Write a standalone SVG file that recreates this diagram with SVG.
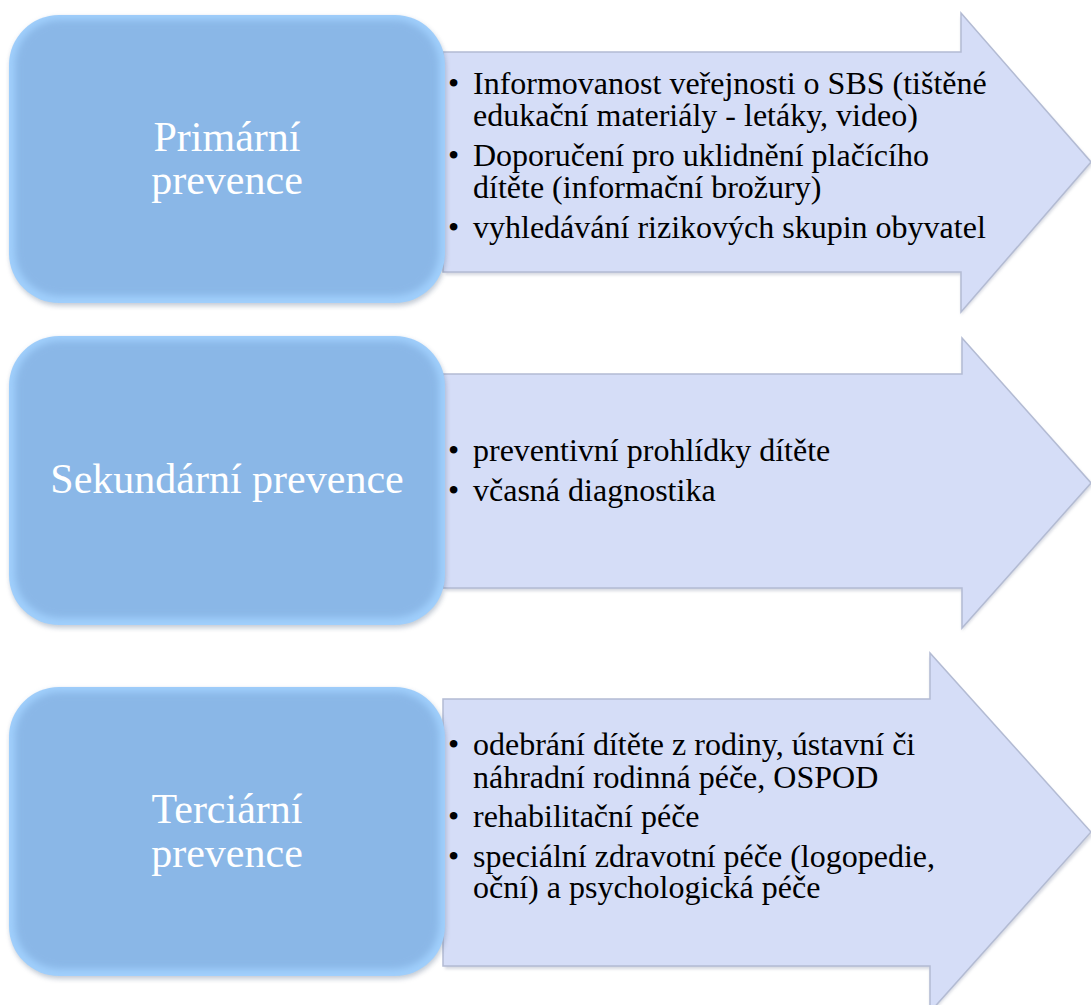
<svg xmlns="http://www.w3.org/2000/svg" width="1091" height="1005" viewBox="0 0 1091 1005">
<defs>
<style>
.arrow{fill:#D5DDF7;stroke:#B3BBD3;stroke-width:1.5;}
.boxEdge{fill:#A0CFFC;}
.boxCore{fill:#8AB7E7;}
.boxShadow{fill:#5A6E8A;opacity:0.35;}
.title{font-size:42px;fill:#FFFFFF;text-anchor:middle;}
.item{font-size:32px;fill:#000000;}
</style>
<filter id="soft" x="-5%" y="-5%" width="110%" height="110%">
<feGaussianBlur stdDeviation="3.5"/>
</filter>
<filter id="shadow" x="-5%" y="-5%" width="110%" height="115%">
<feGaussianBlur stdDeviation="2.5"/>
</filter>
<filter id="ashadow" x="-5%" y="-5%" width="110%" height="110%">
<feGaussianBlur stdDeviation="1.5"/>
</filter>
</defs>
<rect width="1091" height="1005" fill="#FFFFFF"/>
<g id="connectors"></g>

<g id="arrow-primarni">
<polygon points="445,55 961,55 961,16 1093,164 961,315 961,275 445,275" fill="#8890A8" opacity="0.35" filter="url(#ashadow)"/>
<polygon class="arrow" points="443,52 961,52 961,13 1091,162 961,312 961,272 443,272"/>
<text class="item" font-family="'Liberation Serif', 'Times New Roman', serif"><tspan x="448" y="94">•</tspan><tspan x="473" y="94">Informovanost veřejnosti o SBS (tištěné</tspan><tspan x="473" y="126">edukační materiály - letáky, video)</tspan><tspan x="448" y="166">•</tspan><tspan x="473" y="166">Doporučení pro uklidnění plačícího</tspan><tspan x="473" y="198">dítěte (informační brožury)</tspan><tspan x="448" y="238">•</tspan><tspan x="473" y="238">vyhledávání rizikových skupin obyvatel</tspan></text>
</g>

<g id="arrow-sekundarni">
<polygon points="445,377 962,377 962,341 1093,485 962,631 962,591 445,591" fill="#8890A8" opacity="0.35" filter="url(#ashadow)"/>
<polygon class="arrow" points="443,374 962,374 962,338 1091,483 962,628 962,588 443,588"/>
<text class="item" font-family="'Liberation Serif', 'Times New Roman', serif"><tspan x="448" y="461">•</tspan><tspan x="473" y="461">preventivní prohlídky dítěte</tspan><tspan x="448" y="501">•</tspan><tspan x="473" y="501">včasná diagnostika</tspan></text>
</g>

<g id="arrow-terciarni">
<polygon points="445,702 930,702 930,656 1093,835 930,1015 930,969 445,969" fill="#8890A8" opacity="0.35" filter="url(#ashadow)"/>
<polygon class="arrow" points="443,699 930,699 930,653 1091,832 930,1012 930,966 443,966"/>
<text class="item" font-family="'Liberation Serif', 'Times New Roman', serif"><tspan x="448" y="755">•</tspan><tspan x="473" y="755">odebrání dítěte z rodiny, ústavní či</tspan><tspan x="473" y="788">náhradní rodinná péče, OSPOD</tspan><tspan x="448" y="827">•</tspan><tspan x="473" y="827">rehabilitační péče</tspan><tspan x="448" y="867">•</tspan><tspan x="473" y="867">speciální zdravotní péče (logopedie,</tspan><tspan x="473" y="898">oční) a psychologická péče</tspan></text>
</g>

<g id="box-primarni">
<rect class="boxShadow" x="10" y="18" width="436" height="288" rx="50" filter="url(#shadow)"/>
<rect class="boxEdge" x="9" y="15" width="436" height="288" rx="50"/>
<rect class="boxCore" x="15" y="20" width="424" height="276" rx="45" filter="url(#soft)"/>
<text class="title" font-family="'Liberation Serif', 'Times New Roman', serif"><tspan x="227" y="151">Primární</tspan><tspan x="227" y="194">prevence</tspan></text>
</g>

<g id="box-sekundarni">
<rect class="boxShadow" x="10" y="339" width="436" height="289" rx="50" filter="url(#shadow)"/>
<rect class="boxEdge" x="9" y="336" width="436" height="289" rx="50"/>
<rect class="boxCore" x="15" y="341" width="424" height="277" rx="45" filter="url(#soft)"/>
<text class="title" font-family="'Liberation Serif', 'Times New Roman', serif" x="227" y="493">Sekundární prevence</text>
</g>

<g id="box-terciarni">
<rect class="boxShadow" x="10" y="690" width="436" height="289" rx="50" filter="url(#shadow)"/>
<rect class="boxEdge" x="9" y="687" width="436" height="289" rx="50"/>
<rect class="boxCore" x="15" y="692" width="424" height="277" rx="45" filter="url(#soft)"/>
<text class="title" font-family="'Liberation Serif', 'Times New Roman', serif"><tspan x="227" y="823">Terciární</tspan><tspan x="227" y="867">prevence</tspan></text>
</g>
</svg>
